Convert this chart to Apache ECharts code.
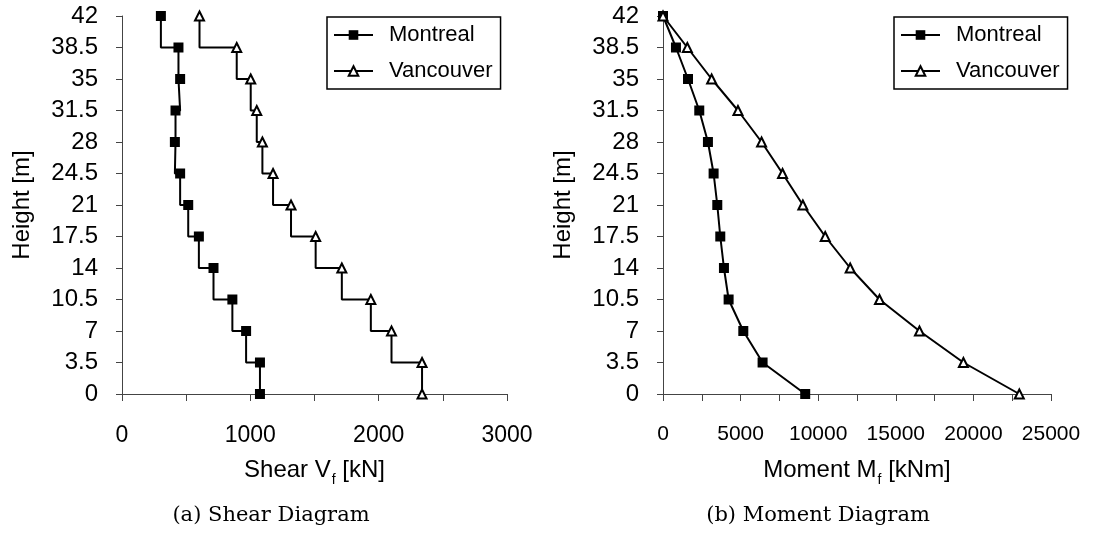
<!DOCTYPE html>
<html>
<head>
<meta charset="utf-8">
<script src="https://cdn.jsdelivr.net/npm/echarts@6/dist/echarts.min.js"></script>
<style>
html,body{margin:0;padding:0;background:#fff;}
#chart{width:1095px;height:535px;}
</style>
</head>
<body>
<div id="chart"></div>
<script>
// Heights [m] (top to bottom)
var heights = [42, 38.5, 35, 31.5, 28, 24.5, 21, 17.5, 14, 10.5, 7, 3.5, 0];
// Shear Vf [kN]
var shearMontreal  = [303, 440, 453, 417, 412, 453, 516, 599, 713, 860, 967, 1075, 1075];
var shearVancouver = [604, 894, 1003, 1050, 1094, 1177, 1317, 1509, 1713, 1939, 2100, 2338, 2338];
// Moment Mf [kNm]
var momentMontreal  = [0, 835, 1610, 2337, 2895, 3261, 3498, 3691, 3927, 4228, 5174, 6417, 9163];
var momentVancouver = [0, 1567, 3133, 4829, 6351, 7703, 9012, 10451, 12060, 13949, 16524, 19356, 22958];
var seriesNames = ['Montreal', 'Vancouver'];
var captions = ['(a) Shear Diagram', '(b) Moment Diagram'];

function pairs(xs) { return xs.map(function (v, i) { return [v, heights[i]]; }); }

var FONT = 'Liberation Sans, Arial, sans-serif';
var axisColor = '#444';

function yAxis(gi) {
  return {
    type: 'value', gridIndex: gi, min: 0, max: 42, interval: 3.5,
    name: 'Height [m]', nameLocation: 'middle', nameGap: 88,
    nameTextStyle: { fontFamily: FONT, fontSize: 24, color: '#000' },
    axisLine: { show: true, lineStyle: { color: axisColor, width: 1 } },
    axisTick: { show: true, length: 6, lineStyle: { color: axisColor } },
    axisLabel: { fontFamily: FONT, fontSize: 24, color: '#000', margin: 24 },
    splitLine: { show: false }
  };
}
function xAxis(gi, max, interval, labelStep, name, labelSize) {
  return {
    type: 'value', gridIndex: gi, min: 0, max: max, interval: interval,
    name: name, nameLocation: 'middle', nameGap: 64,
    nameTextStyle: {
      fontFamily: FONT, fontSize: 24, color: '#000',
      rich: {
        a: { fontFamily: FONT, fontSize: 24, lineHeight: 24, verticalAlign: 'top', color: '#000' },
        s: { fontFamily: FONT, fontSize: 14, lineHeight: 14, verticalAlign: 'top', padding: [15, 0, 0, 1], color: '#000' }
      }
    },
    axisLine: { show: true, onZero: false, lineStyle: { color: axisColor, width: 1 } },
    axisTick: { show: true, length: 7, lineStyle: { color: axisColor } },
    axisLabel: {
      fontFamily: FONT, fontSize: labelSize, color: '#000', margin: 30,
      formatter: function (v) { return (Math.round(v) % labelStep === 0) ? String(v) : ''; }
    },
    splitLine: { show: false }
  };
}

function lineSeries(name, data, gi, step) {
  var isM = name === 'Montreal';
  return {
    name: name, type: 'line', xAxisIndex: gi, yAxisIndex: gi,
    data: pairs(data), step: step ? 'start' : false,
    symbol: isM ? 'rect' : 'triangle', symbolSize: isM ? 10 : 9,
    showAllSymbol: true,
    lineStyle: { color: '#000', width: 2 },
    itemStyle: isM ? { color: '#000', borderColor: '#000', borderWidth: 0 }
                   : { color: '#fff', borderColor: '#000', borderWidth: 2 },
    emphasis: { disabled: true },
    animation: false, z: isM ? 3 : 4
  };
}

function legend(left) {
  return {
    orient: 'vertical', left: left, top: 17,
    data: seriesNames,
    itemWidth: 39, itemHeight: 12, itemGap: 14,
    padding: [7, 8, 7, 6],
    borderColor: '#000', borderWidth: 1.5, backgroundColor: '#fff',
    textStyle: { fontFamily: FONT, fontSize: 22, color: '#000', padding: [0, 0, 0, 11] },
    selectedMode: false
  };
}

var chart = echarts.init(document.getElementById('chart'), null, { renderer: 'canvas' });
var option = {
  backgroundColor: '#fff',
  animation: false,
  grid: [
    { left: 122, right: 588, top: 16, bottom: 141 },
    { left: 663, right: 44, top: 16, bottom: 141 }
  ],
  xAxis: [
    xAxis(0, 3000, 500, 1000, '{a|Shear V}{s|f}{a| [kN]}', 23),
    xAxis(1, 25000, 2500, 5000, '{a|Moment M}{s|f}{a| [kNm]}', 21)
  ],
  yAxis: [yAxis(0), yAxis(1)],
  legend: [
    legend(327),
    legend(894)
  ],
  series: [
    lineSeries('Montreal', shearMontreal, 0, true),
    lineSeries('Vancouver', shearVancouver, 0, true),
    lineSeries('Montreal', momentMontreal, 1, false),
    lineSeries('Vancouver', momentVancouver, 1, false)
  ],
  graphic: [
    { type: 'text', x: 271, y: 516, style: { text: captions[0], align: 'center', verticalAlign: 'middle', font: '21px "DejaVu Serif", serif', fill: '#000' } },
    { type: 'text', x: 818, y: 516, style: { text: captions[1], align: 'center', verticalAlign: 'middle', font: '21px "DejaVu Serif", serif', fill: '#000' } }
  ]
};
chart.setOption(option);
</script>
</body>
</html>
